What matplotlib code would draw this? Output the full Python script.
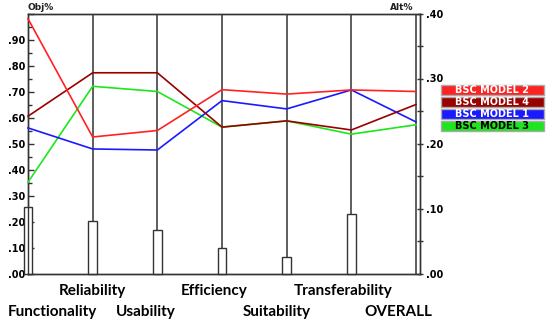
import matplotlib
matplotlib.use("Agg")
import matplotlib.pyplot as plt
from matplotlib.patches import Rectangle
from matplotlib.ticker import MultipleLocator, FuncFormatter

# criteria along the x axis
criteria = ["Functionality", "Reliability", "Usability", "Efficiency",
            "Suitability", "Transferability", "OVERALL"]

# objective weights (right axis, Alt%) drawn as the narrow bars
obj_weights = [0.102, 0.081, 0.067, 0.039, 0.025, 0.091]

# alternative scores (left axis, Obj%)
model_2 = [0.98, 0.525, 0.55, 0.707, 0.69, 0.706, 0.70]
model_4 = [0.605, 0.772, 0.772, 0.563, 0.587, 0.552, 0.65]
model_1 = [0.56, 0.479, 0.475, 0.665, 0.633, 0.706, 0.583]
model_3 = [0.351, 0.72, 0.70, 0.563, 0.587, 0.536, 0.572]

legend_labels = ["BSC MODEL 2", "BSC MODEL 4", "BSC MODEL 1", "BSC MODEL 3"]

W, H = 550, 326
fig = plt.figure(figsize=(W / 100, H / 100), dpi=100)
ax = fig.add_axes([28 / W, 1 - 273.5 / H, 392 / W, 260 / H])
ax2 = ax.twinx()

xs = list(range(len(criteria)))
px = 64.67  # pixels per criterion step
ax.set_xlim(0, 6 + 4 / px)
ax.set_ylim(0, 1.0)
ax2.set_ylim(0, 0.40)
ax2.set_xlim(ax.get_xlim())

edge = "#333333"

# bars + vertical criterion lines (on the Alt% scale)
ax2.bar(xs[:6], obj_weights, width=8.5 / px, facecolor="white",
        edgecolor=edge, linewidth=1.0, clip_on=False, zorder=2)
ax2.vlines(xs[1:6], obj_weights[1:], 0.40, color=edge, linewidth=1.1, zorder=1)
ax2.vlines([6], 0, 0.40, color=edge, linewidth=1.1, zorder=1)

colors = {"BSC MODEL 2": "#ff2222", "BSC MODEL 4": "#990000",
          "BSC MODEL 1": "#1a1aff", "BSC MODEL 3": "#1ee61e"}
series = {"BSC MODEL 2": model_2, "BSC MODEL 4": model_4,
          "BSC MODEL 1": model_1, "BSC MODEL 3": model_3}

for name in ["BSC MODEL 3", "BSC MODEL 1", "BSC MODEL 4", "BSC MODEL 2"]:
    ax2.plot(xs, [v * 0.40 for v in series[name]], color=colors[name],
             linewidth=1.2, zorder=3, clip_on=False)

# axes styling
for a in (ax, ax2):
    for s in a.spines.values():
        s.set_color(edge)
        s.set_linewidth(1.0)
ax.set_xticks([])
ax.yaxis.set_major_locator(MultipleLocator(0.1))
ax.yaxis.set_minor_locator(MultipleLocator(0.05))
ax.yaxis.set_major_formatter(FuncFormatter(lambda v, p: f"{v:.2f}"[1:] if v < 1 else ""))
ax.tick_params(axis="y", direction="in", length=4, width=1, color=edge,
               labelsize=7, pad=2)
ax.tick_params(axis="y", which="minor", direction="in", length=3, width=1, color=edge)
for lab in ax.get_yticklabels():
    lab.set_fontweight("bold")

ax2.yaxis.set_major_locator(MultipleLocator(0.1))
ax2.yaxis.set_minor_locator(MultipleLocator(0.05))
ax2.yaxis.set_major_formatter(FuncFormatter(lambda v, p: f"{v:.2f}"[1:]))
ax2.tick_params(axis="y", direction="inout", length=5, width=1, color=edge,
                labelsize=7, pad=2)
ax2.tick_params(axis="y", which="minor", direction="inout", length=4, width=1, color=edge)
for lab in ax2.get_yticklabels():
    lab.set_fontweight("bold")

fig.text(28 / W, 1 - 7 / H, "Obj%", fontsize=6.5, fontweight="bold",
         ha="left", va="center", color="#222222")
fig.text(413 / W, 1 - 7 / H, "Alt%", fontsize=6.5, fontweight="bold",
         ha="right", va="center", color="#222222")

# staggered category labels
label_pos = {"Reliability": (92, 291), "Efficiency": (214, 291),
             "Transferability": (343, 291), "Functionality": (52, 312),
             "Usability": (146, 312), "Suitability": (277, 312),
             "OVERALL": (398, 312)}
for c in criteria:
    x, y = label_pos[c]
    fig.text(x / W, 1 - y / H, c, fontsize=11, fontweight="bold",
             family="Lato", ha="center", va="center", color="black")

# legend boxes
box_y = [90, 102, 114, 126]
for lab, y in zip(legend_labels, box_y):
    fig.add_artist(Rectangle((441 / W, 1 - (y + 5) / H), 103 / W, 10 / H,
                             transform=fig.transFigure, facecolor=colors[lab],
                             edgecolor="#aaaaaa", linewidth=1.0))
    txt_color = "black" if lab == "BSC MODEL 3" else "white"
    fig.text(492 / W, 1 - y / H, lab, fontsize=7, fontweight="bold",
             ha="center", va="center", color=txt_color)

fig.savefig("out.png", dpi=100)
